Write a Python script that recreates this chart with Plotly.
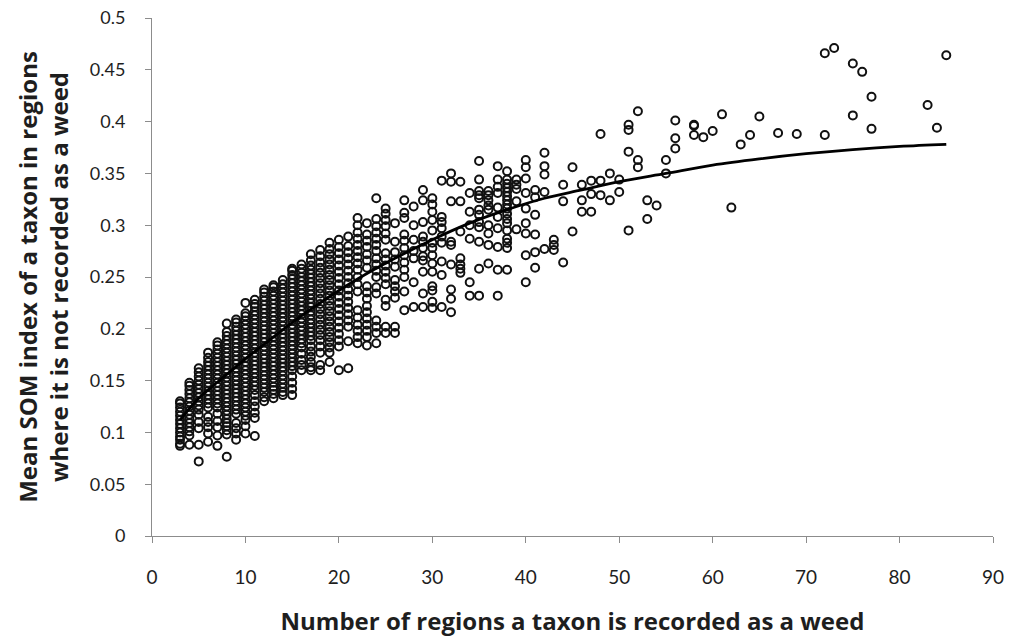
import plotly.graph_objects as go

# ---- data (x = number of regions recorded as weed) ----
n03 = [0.087, 0.089, 0.093, 0.096, 0.100, 0.104, 0.108, 0.112, 0.116, 0.120, 0.124, 0.128, 0.130]
n04 = [0.088, 0.097, 0.101, 0.105, 0.109, 0.113, 0.117, 0.121, 0.125, 0.129, 0.133, 0.137, 0.141, 0.145, 0.148]
n05 = [0.072, 0.088, 0.104, 0.110, 0.117, 0.122, 0.126, 0.130, 0.134, 0.138, 0.142, 0.146, 0.150, 0.154, 0.158, 0.162]
n06 = [0.091, 0.099, 0.105, 0.110, 0.115, 0.124, 0.128, 0.132, 0.136, 0.140, 0.144, 0.148, 0.152, 0.156, 0.160,
       0.164, 0.168, 0.172, 0.177]
n07 = [0.087, 0.097, 0.105, 0.111, 0.118, 0.124, 0.128, 0.132, 0.136, 0.140, 0.144, 0.148, 0.152, 0.156, 0.160,
       0.164, 0.168, 0.172, 0.176, 0.180, 0.184, 0.187]
n08 = [0.0765, 0.098, 0.102, 0.106, 0.109, 0.113, 0.117, 0.121, 0.125, 0.129, 0.133, 0.137, 0.141, 0.145, 0.149,
       0.153, 0.157, 0.161, 0.165, 0.169, 0.173, 0.177, 0.181, 0.185, 0.189, 0.193, 0.197, 0.205]
n09 = [0.093, 0.099, 0.104, 0.109, 0.118, 0.122, 0.126, 0.130, 0.134, 0.138, 0.142, 0.146, 0.150, 0.154, 0.158,
       0.162, 0.166, 0.170, 0.174, 0.178, 0.182, 0.186, 0.190, 0.194, 0.198, 0.202, 0.206, 0.209]
n10 = [0.099, 0.106, 0.112, 0.116, 0.120, 0.124, 0.128, 0.132, 0.136, 0.140, 0.144, 0.148, 0.152, 0.156, 0.160,
       0.164, 0.168, 0.172, 0.176, 0.180, 0.184, 0.188, 0.192, 0.196, 0.200, 0.204, 0.208, 0.212, 0.215, 0.225]
n11 = [0.0965, 0.114, 0.119, 0.125, 0.130, 0.136, 0.141, 0.145, 0.149, 0.153, 0.157, 0.161, 0.165, 0.169, 0.173,
       0.177, 0.181, 0.185, 0.189, 0.193, 0.197, 0.201, 0.205, 0.209, 0.213, 0.217, 0.221, 0.224, 0.228]
n12 = [0.130, 0.134, 0.139, 0.143, 0.147, 0.151, 0.155, 0.159, 0.163, 0.167, 0.171, 0.175, 0.179, 0.183, 0.187,
       0.191, 0.195, 0.199, 0.203, 0.207, 0.211, 0.215, 0.219, 0.223, 0.227, 0.231, 0.235, 0.238]
n13 = [0.133, 0.137, 0.141, 0.144, 0.148, 0.152, 0.156, 0.160, 0.164, 0.168, 0.172, 0.176, 0.180, 0.184, 0.188,
       0.192, 0.196, 0.200, 0.204, 0.208, 0.212, 0.216, 0.220, 0.224, 0.228, 0.232, 0.236, 0.240, 0.242]
n14 = [0.136, 0.139, 0.143, 0.147, 0.151, 0.155, 0.159, 0.163, 0.167, 0.171, 0.175, 0.179, 0.183, 0.187, 0.191,
       0.195, 0.199, 0.203, 0.207, 0.211, 0.215, 0.219, 0.223, 0.227, 0.231, 0.235, 0.239, 0.243, 0.247]
n15 = [0.136, 0.142, 0.148, 0.154, 0.160, 0.164, 0.168, 0.172, 0.176, 0.180, 0.184, 0.188, 0.192, 0.196, 0.200,
       0.204, 0.208, 0.212, 0.216, 0.220, 0.224, 0.228, 0.232, 0.236, 0.240, 0.244, 0.248, 0.252, 0.256, 0.258]
n16 = [0.160, 0.165, 0.170, 0.176, 0.182, 0.186, 0.190, 0.194, 0.198, 0.202, 0.206, 0.210, 0.214, 0.218, 0.222,
       0.226, 0.230, 0.234, 0.238, 0.242, 0.246, 0.250, 0.254, 0.258, 0.262]
n17 = [0.160, 0.163, 0.168, 0.173, 0.178, 0.183, 0.189, 0.193, 0.197, 0.201, 0.205, 0.209, 0.213, 0.217, 0.221,
       0.225, 0.229, 0.233, 0.237, 0.241, 0.245, 0.249, 0.253, 0.257, 0.261, 0.266, 0.272]
n18 = [0.160, 0.165, 0.177, 0.183, 0.189, 0.194, 0.199, 0.204, 0.209, 0.214, 0.219, 0.224, 0.229, 0.234, 0.239,
       0.244, 0.249, 0.254, 0.259, 0.264, 0.270, 0.276]
n19 = [0.168, 0.177, 0.182, 0.187, 0.192, 0.197, 0.202, 0.207, 0.212, 0.217, 0.222, 0.227, 0.232, 0.237, 0.242,
       0.247, 0.252, 0.257, 0.262, 0.267, 0.272, 0.277, 0.283]
n20 = [0.160, 0.183, 0.189, 0.195, 0.201, 0.207, 0.213, 0.219, 0.225, 0.231, 0.237, 0.243, 0.249, 0.255, 0.261,
       0.267, 0.273, 0.279, 0.286]
n21 = [0.162, 0.188, 0.202, 0.208, 0.214, 0.220, 0.226, 0.232, 0.238, 0.244, 0.250, 0.256, 0.262, 0.268, 0.274,
       0.280, 0.289]
n22 = [0.186, 0.192, 0.198, 0.204, 0.211, 0.218, 0.236, 0.243, 0.250, 0.257, 0.263, 0.269, 0.275, 0.281, 0.287,
       0.293, 0.300, 0.307]
n23 = [0.184, 0.192, 0.198, 0.204, 0.210, 0.216, 0.222, 0.229, 0.235, 0.241, 0.259, 0.266, 0.272, 0.279, 0.285,
       0.291, 0.302]
n24 = [0.186, 0.196, 0.202, 0.208, 0.234, 0.240, 0.250, 0.256, 0.262, 0.268, 0.275, 0.281, 0.287, 0.293, 0.299,
       0.306, 0.326]
n25 = [0.196, 0.202, 0.222, 0.228, 0.243, 0.249, 0.255, 0.261, 0.267, 0.273, 0.286, 0.292, 0.299, 0.305, 0.311,
       0.316]
n26 = [0.196, 0.202, 0.230, 0.236, 0.241, 0.247, 0.260, 0.267, 0.274, 0.284, 0.302]
n27 = [0.218, 0.236, 0.250, 0.257, 0.264, 0.271, 0.278, 0.285, 0.291, 0.307, 0.312, 0.324]
n28 = [0.221, 0.245, 0.268, 0.275, 0.286, 0.300, 0.318]
n29 = [0.221, 0.234, 0.255, 0.266, 0.270, 0.278, 0.284, 0.289, 0.303, 0.324, 0.334]
n30 = [0.220, 0.226, 0.237, 0.241, 0.255, 0.263, 0.271, 0.278, 0.283, 0.295, 0.305, 0.313, 0.320, 0.326]
n31 = [0.221, 0.252, 0.265, 0.283, 0.289, 0.297, 0.303, 0.308, 0.343]
n32 = [0.216, 0.229, 0.238, 0.262, 0.281, 0.284, 0.323, 0.342, 0.350]
n33 = [0.254, 0.258, 0.262, 0.268, 0.294, 0.323, 0.342]
n34 = [0.232, 0.245, 0.287, 0.300, 0.313, 0.331]
n35 = [0.232, 0.258, 0.284, 0.298, 0.303, 0.310, 0.315, 0.326, 0.329, 0.333, 0.344, 0.362]
n36 = [0.263, 0.281, 0.292, 0.300, 0.315, 0.319, 0.324, 0.329, 0.333]
n37 = [0.232, 0.257, 0.279, 0.297, 0.308, 0.317, 0.331, 0.337, 0.344, 0.357]
n38 = [0.257, 0.278, 0.283, 0.287, 0.295, 0.302, 0.306, 0.311, 0.316, 0.320, 0.324, 0.328, 0.332, 0.336, 0.340,
       0.344, 0.352]
n39 = [0.296, 0.323, 0.335, 0.339, 0.344]
n40 = [0.245, 0.271, 0.292, 0.302, 0.316, 0.331, 0.345, 0.356, 0.363]
n41 = [0.259, 0.274, 0.291, 0.310, 0.327, 0.334]
n42 = [0.277, 0.332, 0.349, 0.357, 0.370]
n43 = [0.276, 0.281, 0.286]
n44 = [0.264, 0.323, 0.339]
n45 = [0.294, 0.356]
n46 = [0.313, 0.324, 0.339]
n47 = [0.313, 0.330, 0.343]
n48 = [0.329, 0.343, 0.388]
n49 = [0.324, 0.350]
n50 = [0.332, 0.344]
n51 = [0.295, 0.371, 0.392, 0.397]
n52 = [0.356, 0.363, 0.410]
n53 = [0.306, 0.324]
n54 = [0.319]
n55 = [0.350, 0.363]
n56 = [0.374, 0.384, 0.401]
n58 = [0.387, 0.396, 0.397]
n59 = [0.385]
n60 = [0.391]
n61 = [0.407]
n62 = [0.317]
n63 = [0.378]
n64 = [0.387]
n65 = [0.405]
n67 = [0.389]
n69 = [0.388]
n72 = [0.387, 0.466]
n73 = [0.471]
n75 = [0.406, 0.456]
n76 = [0.448]
n77 = [0.393, 0.424]
n83 = [0.416]
n84 = [0.394]
n85 = [0.464]

# fitted trend line
curve_x = [3, 4, 5, 6, 8, 10, 12, 15, 18, 22, 26, 30, 34, 38, 42, 46, 50, 55, 60, 65, 70, 75, 80, 85]
curve_y = [0.112, 0.123, 0.133, 0.141, 0.156, 0.171, 0.185, 0.206, 0.225, 0.248, 0.268, 0.286, 0.302, 0.315,
           0.326, 0.334, 0.342, 0.350, 0.358, 0.364, 0.369, 0.373, 0.376, 0.378]

x_ticks = [0, 10, 20, 30, 40, 50, 60, 70, 80, 90]
y_ticks = [0, 0.05, 0.1, 0.15, 0.2, 0.25, 0.3, 0.35, 0.4, 0.45, 0.5]
y_tick_labels = ["0", "0.05", "0.1", "0.15", "0.2", "0.25", "0.3", "0.35", "0.4", "0.45", "0.5"]

x_title = "Number of regions a taxon is recorded as a weed"
y_title = "Mean SOM index of a taxon in regions<br>where it is not recorded as a weed"

# ---- build table from the columns ----
columns = {
    3: n03, 4: n04, 5: n05, 6: n06, 7: n07, 8: n08, 9: n09, 10: n10, 11: n11, 12: n12, 13: n13, 14: n14,
    15: n15, 16: n16, 17: n17, 18: n18, 19: n19, 20: n20, 21: n21, 22: n22, 23: n23, 24: n24, 25: n25,
    26: n26, 27: n27, 28: n28, 29: n29, 30: n30, 31: n31, 32: n32, 33: n33, 34: n34, 35: n35, 36: n36,
    37: n37, 38: n38, 39: n39, 40: n40, 41: n41, 42: n42, 43: n43, 44: n44, 45: n45, 46: n46, 47: n47,
    48: n48, 49: n49, 50: n50, 51: n51, 52: n52, 53: n53, 54: n54, 55: n55, 56: n56, 58: n58, 59: n59,
    60: n60, 61: n61, 62: n62, 63: n63, 64: n64, 65: n65, 67: n67, 69: n69, 72: n72, 73: n73, 75: n75,
    76: n76, 77: n77, 83: n83, 84: n84, 85: n85,
}
pts_x, pts_y = [], []
for xv, ys in columns.items():
    for yv in ys:
        pts_x.append(xv)
        pts_y.append(yv)

TICK_FONT = "Lato, 'Open Sans', sans-serif"
TITLE_FONT = "'Open Sans', Lato, sans-serif"
AXIS_GREY = "#8c8c8c"
TEXT = "#1e1e1e"

fig = go.Figure()
fig.add_trace(go.Scatter(
    x=pts_x, y=pts_y, mode="markers",
    marker=dict(symbol="circle-open", size=8, color="#111111", line=dict(width=2.0, color="#111111")),
    showlegend=False, hoverinfo="x+y",
))
fig.add_trace(go.Scatter(
    x=curve_x, y=curve_y, mode="lines", line=dict(color="black", width=2.8, shape="spline"),
    showlegend=False, hoverinfo="skip",
))

fig.update_layout(
    width=1014, height=638,
    margin=dict(l=152, r=21, t=18, b=102),
    paper_bgcolor="white", plot_bgcolor="white",
    font=dict(family=TICK_FONT, color=TEXT),
)
fig.update_xaxes(
    range=[0, 90], tickvals=x_ticks, ticktext=[str(v) for v in x_ticks], automargin=False,
    showline=True, linecolor=AXIS_GREY, linewidth=1, ticks="outside", ticklen=6, tickcolor=AXIS_GREY,
    showgrid=False, zeroline=False, tickfont=dict(size=19, family=TICK_FONT, color=TEXT),
    ticklabelstandoff=18,
    title=dict(text=x_title, font=dict(size=24, family=TITLE_FONT, color=TEXT, weight="bold"), standoff=26),
)
fig.update_yaxes(
    range=[0, 0.5], tickvals=y_ticks, ticktext=y_tick_labels, automargin=False,
    showline=True, linecolor=AXIS_GREY, linewidth=1, ticks="outside", ticklen=6, tickcolor=AXIS_GREY,
    showgrid=False, zeroline=False, tickfont=dict(size=18, family=TICK_FONT, color=TEXT),
    ticklabelstandoff=16,
    title=dict(text=y_title, font=dict(size=24, family=TITLE_FONT, color=TEXT, weight="bold"), standoff=14),
)

fig.write_html(
    "out.html",
    config={"displayModeBar": False},
    post_script="document.body.style.margin='0';document.body.style.overflow='hidden';",
)
